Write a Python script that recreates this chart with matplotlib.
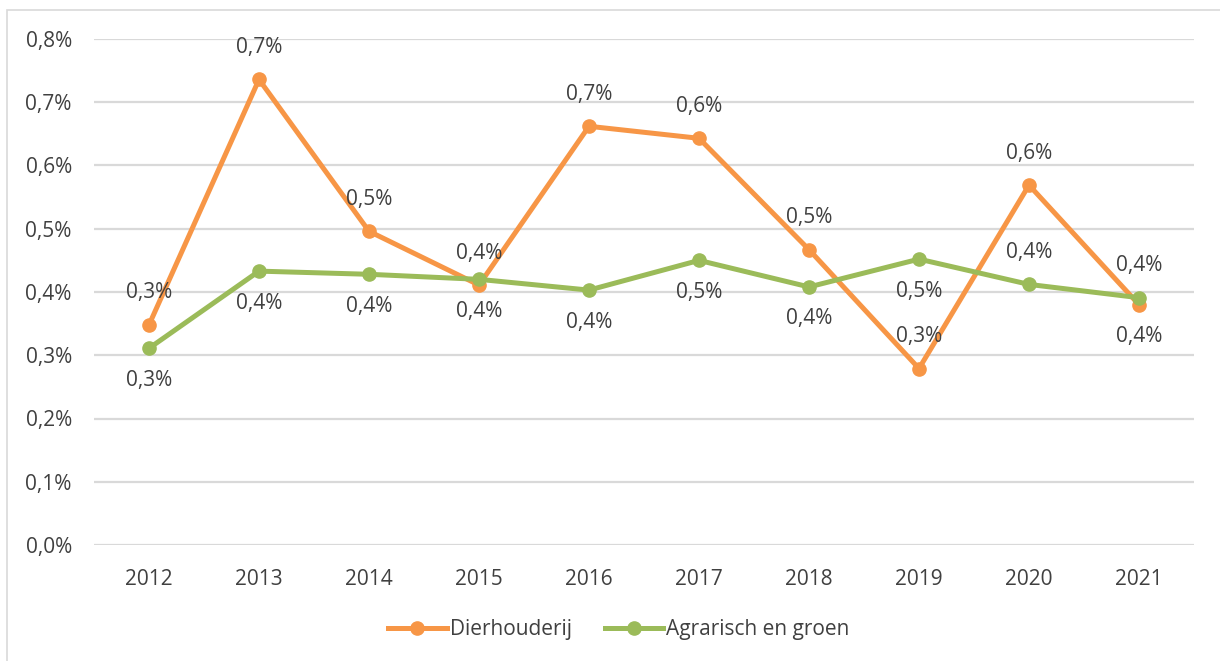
import matplotlib
matplotlib.use("Agg")
import matplotlib.pyplot as plt
from matplotlib.patches import Rectangle

plt.rcParams['font.family'] = ['Open Sans', 'DejaVu Sans']

years = ['2012', '2013', '2014', '2015', '2016', '2017', '2018', '2019', '2020', '2021']
dierhouderij = [0.348, 0.736, 0.496, 0.411, 0.662, 0.643, 0.467, 0.279, 0.569, 0.380]
agrarisch = [0.311, 0.433, 0.428, 0.420, 0.403, 0.450, 0.408, 0.452, 0.412, 0.391]
# label placement per point: 1 = above, -1 = below
pos_dier = [1, 1, 1, 1, 1, 1, 1, 1, 1, -1]
pos_agr = [-1, -1, -1, -1, -1, -1, -1, -1, 1, 1]

orange = '#F79646'
green = '#9BBB59'
txt = '#404040'
fs = 15

fig = plt.figure(figsize=(12.2, 6.61), dpi=100)
fig.patches.append(Rectangle((7 / 1220, -0.1), 1.2, 1 - 10 / 661 + 0.1, transform=fig.transFigure,
                             fill=False, edgecolor='#D9D9D9', linewidth=1.2))
ax = fig.add_axes([94 / 1220, 1 - 545 / 661, 1100 / 1220, 506 / 661])

x = range(len(years))
ax.plot(x, dierhouderij, '-o', color=orange, lw=3.6, ms=9.5, label='Dierhouderij', zorder=3)
ax.plot(x, agrarisch, '-o', color=green, lw=3.6, ms=9.5, label='Agrarisch en groen', zorder=4)

def fmt(v):
    return '{:.1f}%'.format(v).replace('.', ',')

for series, pos in ((dierhouderij, pos_dier), (agrarisch, pos_agr)):
    for i, v in enumerate(series):
        ax.annotate(fmt(v), (i, v), xytext=(0, 23 * pos[i]), textcoords='offset points',
                    ha='center', va='center', fontsize=fs, color=txt)

ax.set_xlim(-0.5, 9.5)
ax.set_ylim(0, 0.8)
ax.set_xticks(list(x))
ax.set_xticklabels(years)
yt = [i / 10 for i in range(9)]
ax.set_yticks(yt)
ax.set_yticklabels([fmt(v) for v in yt])
ax.tick_params(axis='both', length=0, labelsize=fs, labelcolor=txt)
ax.tick_params(axis='y', pad=16)
ax.tick_params(axis='x', pad=17)
ax.grid(axis='y', color='#D9D9D9', lw=1.6)
ax.set_axisbelow(True)
for s in ax.spines.values():
    s.set_visible(False)

fig.legend(loc='center', bbox_to_anchor=(0.5 + 9 / 1220, 1 - 630 / 661), ncol=2, frameon=False,
           fontsize=fs, labelcolor=txt, handlelength=2.8, columnspacing=1.6, handletextpad=0.15)

fig.savefig('out.png', dpi=100)
